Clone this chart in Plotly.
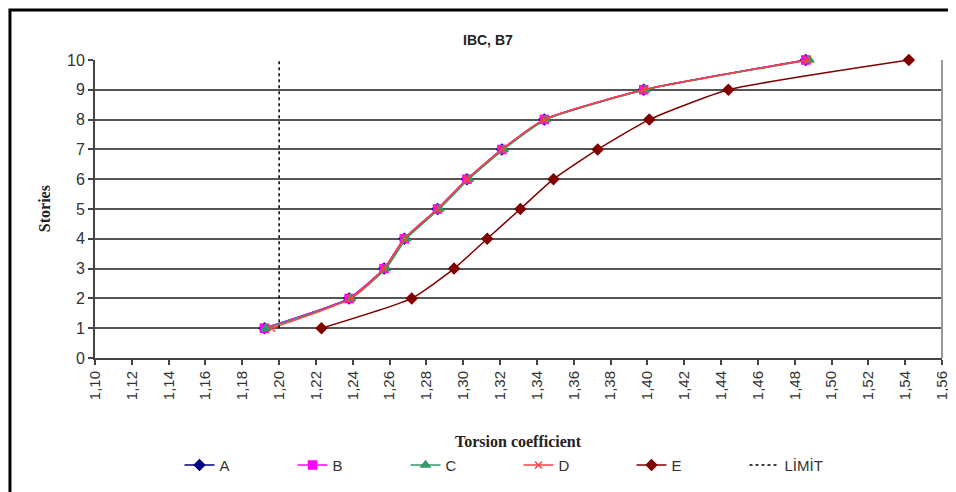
import plotly.graph_objects as go

# stories and torsion coefficients
stories = [1, 2, 3, 4, 5, 6, 7, 8, 9, 10]
a_vals = [1.192, 1.238, 1.257, 1.268, 1.286, 1.302, 1.321, 1.344, 1.398, 1.486]
b_vals = [1.192, 1.238, 1.257, 1.268, 1.286, 1.302, 1.321, 1.344, 1.398, 1.486]
c_vals = [1.193, 1.239, 1.258, 1.269, 1.287, 1.303, 1.322, 1.345, 1.399, 1.488]
d_vals = [1.196, 1.239, 1.257, 1.268, 1.286, 1.302, 1.321, 1.344, 1.398, 1.487]
e_vals = [1.223, 1.272, 1.295, 1.313, 1.331, 1.349, 1.373, 1.401, 1.444, 1.542]
limit_x = [1.20, 1.20]
limit_y = [1, 10]

series = [
    ('A', a_vals, '#000080', 'diamond', 8),
    ('B', b_vals, '#FF00FF', 'square', 8),
    ('C', c_vals, '#339966', 'triangle-up', 8),
    ('D', d_vals, '#FF4040', 'x-thin', 7),
    ('E', e_vals, '#800000', 'diamond', 8),
]

fig = go.Figure()
for name, xs, col, sym, sz in series:
    fig.add_trace(go.Scatter(
        x=xs, y=stories, name=name, mode='lines+markers',
        line=dict(color=col, width=1.5, shape='spline', smoothing=0.5),
        marker=dict(symbol=sym, size=sz, color=col, line=dict(color=col, width=1.5)),
        cliponaxis=False,
    ))

fig.add_trace(go.Scatter(
    x=limit_x, y=limit_y, name='LİMİT', mode='lines',
    line=dict(color='black', width=1.5, dash='dot'),
))

# the page body adds an 8px offset, margins compensate for it
fig.update_layout(
    width=956, height=492,
    margin=dict(l=87, r=22, t=52, b=142),
    paper_bgcolor='white', plot_bgcolor='white',
    separators=',.',
    showlegend=True,
    legend=dict(orientation='h', x=0.5, xanchor='center', y=-0.36, yanchor='middle',
                font=dict(family='Liberation Sans', size=15, color='#333333'),
                entrywidth=68, entrywidthmode='pixels', tracegroupgap=0),
    title=dict(text='<b>IBC, B7</b>', x=0.502, xanchor='center', y=0.935, yanchor='middle',
               yref='container', font=dict(family='Liberation Sans', size=14, color='#222222')),
)

fig.update_xaxes(
    range=[1.10, 1.56], dtick=0.02, tick0=1.10, tickformat='.2f', tickangle=-90,
    showgrid=False, zeroline=False, showline=True, linecolor='#444444', linewidth=2,
    ticks='outside', ticklen=5, tickcolor='#444444', tickwidth=1.5,
    tickfont=dict(family='Liberation Sans', size=15, color='#333333'),
)
fig.update_yaxes(
    range=[0, 10], dtick=1, showgrid=True, gridcolor='#555555', gridwidth=2,
    zeroline=False, showline=True, linecolor='#444444', linewidth=2,
    ticks='outside', ticklen=5, tickcolor='#444444', tickwidth=1.5,
    tickfont=dict(family='Liberation Sans', size=16, color='#333333'),
)

# plot area right border and outer frame
fig.add_shape(type='line', xref='paper', yref='paper', x0=1, x1=1, y0=0, y1=1,
              line=dict(color='#999999', width=2))
fig.add_shape(type='rect', xref='paper', yref='paper', x0=-0.1004, x1=1.2, y0=-0.6, y1=1.168,
              line=dict(color='black', width=3))

fig.add_annotation(text='<b>Torsion coefficient</b>', xref='paper', yref='paper',
                   x=0.5, y=-0.28, xanchor='center', yanchor='middle', showarrow=False,
                   font=dict(family='Liberation Serif', size=16, color='#222222'))
fig.add_annotation(text='<b>Stories</b>', xref='paper', yref='paper',
                   x=-0.06, y=0.5, xanchor='center', yanchor='middle', showarrow=False,
                   textangle=-90,
                   font=dict(family='Liberation Serif', size=16, color='#222222'))

fig.write_html("out.html")
